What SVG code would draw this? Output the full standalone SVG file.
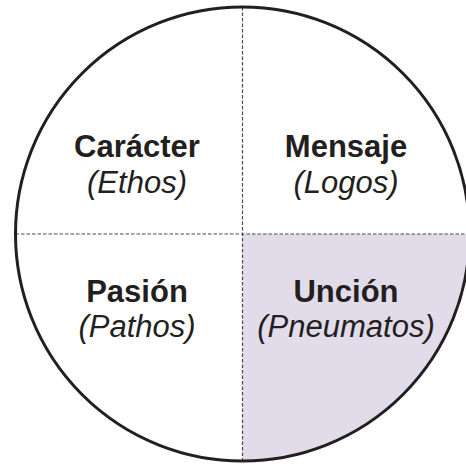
<svg xmlns="http://www.w3.org/2000/svg" width="466" height="464" viewBox="0 0 466 464">
<style>
.b{font-family:"Liberation Sans",Arial,sans-serif;font-weight:bold;font-size:31px;fill:#231f20;text-anchor:middle}
.i{font-family:"Liberation Sans",Arial,sans-serif;font-style:italic;font-size:31px;fill:#231f20;text-anchor:middle}
.d{stroke:#4a4a4a;stroke-width:1.2;stroke-dasharray:3.5 2;fill:none}
</style>
<rect width="466" height="464" fill="#ffffff"/>
<g id="quadrant-fill">
<path d="M242.5,234 L469.5,234 A227,227 0 0 1 242.5,461 Z" fill="#e2dbe9"/>
</g>
<g id="connectors">
<line class="d" x1="242.5" y1="7" x2="242.5" y2="461"/>
<line class="d" x1="15.5" y1="234" x2="469.5" y2="234"/>
</g>
<g id="circle">
<circle cx="242.5" cy="234" r="227" fill="none" stroke="#231f20" stroke-width="3"/>
</g>
<g id="caracter"><text class="b" x="137" y="157">Carácter</text><text class="i" x="137" y="193">(Ethos)</text></g>
<g id="mensaje"><text class="b" x="346" y="157">Mensaje</text><text class="i" x="346" y="193">(Logos)</text></g>
<g id="pasion"><text class="b" x="137" y="302">Pasión</text><text class="i" x="137" y="337">(Pathos)</text></g>
<g id="uncion"><text class="b" x="346" y="302">Unción</text><text class="i" x="346" y="337">(Pneumatos)</text></g>
</svg>
